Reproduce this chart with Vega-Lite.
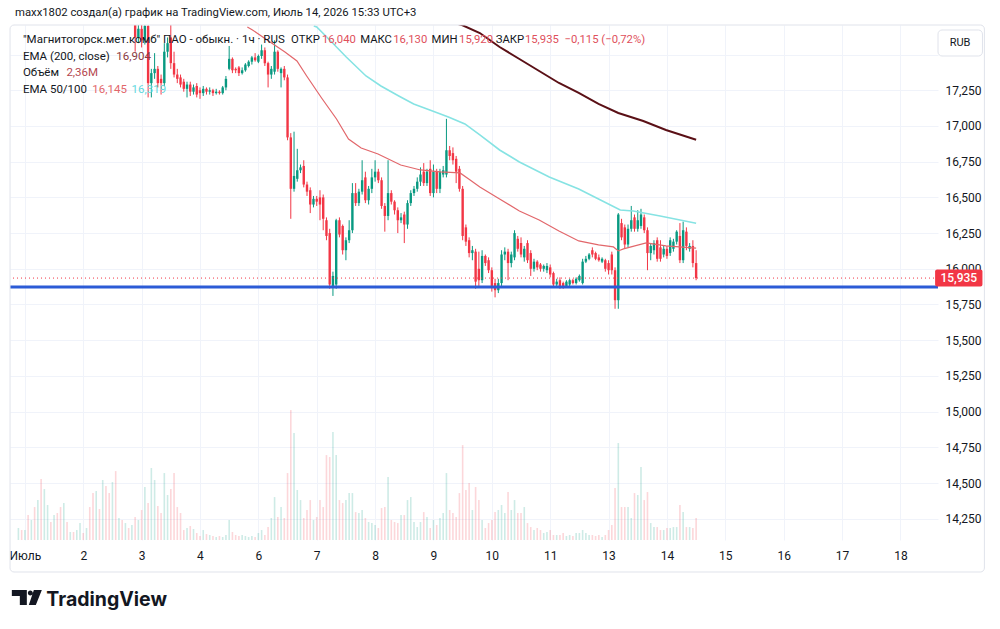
{
  "$schema": "https://vega.github.io/schema/vega-lite/v6.json",
  "width": 928,
  "height": 515,
  "autosize": "none",
  "padding": {"left": 10, "top": 25, "right": 62, "bottom": 89},
  "background": "#ffffff",
  "config": {"view": {"stroke": null}, "text": {"font": "Roboto"}, "axis": {"labelFont": "Roboto"}},
  "datasets": {
    "candles": [
      {"i":34,"o":17.72,"h":17.76,"l":17.52,"c":17.62},{"i":35,"o":17.62,"h":17.72,"l":17.58,"c":17.68},{"i":36,"o":17.68,"h":17.73,"l":17.55,"c":17.60},{"i":37,"o":17.60,"h":17.76,"l":17.57,"c":17.70},{"i":38,"o":17.70,"h":17.74,"l":17.20,"c":17.30},{"i":39,"o":17.30,"h":17.40,"l":17.20,"c":17.37},{"i":40,"o":17.37,"h":17.51,"l":17.33,"c":17.40},{"i":41,"o":17.40,"h":17.42,"l":17.27,"c":17.30},{"i":42,"o":17.33,"h":17.36,"l":17.22,"c":17.30},{"i":43,"o":17.30,"h":17.58,"l":17.28,"c":17.52},{"i":44,"o":17.52,"h":17.62,"l":17.48,"c":17.58},{"i":45,"o":17.62,"h":17.71,"l":17.40,"c":17.44},{"i":46,"o":17.44,"h":17.52,"l":17.34,"c":17.36},{"i":47,"o":17.36,"h":17.40,"l":17.30,"c":17.33},{"i":48,"o":17.34,"h":17.36,"l":17.27,"c":17.29},{"i":49,"o":17.31,"h":17.33,"l":17.24,"c":17.26},{"i":50,"o":17.26,"h":17.31,"l":17.20,"c":17.29},{"i":51,"o":17.29,"h":17.31,"l":17.21,"c":17.24},{"i":52,"o":17.24,"h":17.29,"l":17.22,"c":17.27},{"i":53,"o":17.28,"h":17.30,"l":17.20,"c":17.22},
      {"i":54,"o":17.25,"h":17.27,"l":17.19,"c":17.23},{"i":55,"o":17.23,"h":17.28,"l":17.21,"c":17.26},{"i":56,"o":17.26,"h":17.27,"l":17.22,"c":17.24},{"i":57,"o":17.24,"h":17.27,"l":17.22,"c":17.25},{"i":58,"o":17.25,"h":17.26,"l":17.21,"c":17.23},{"i":59,"o":17.23,"h":17.26,"l":17.22,"c":17.24},{"i":60,"o":17.24,"h":17.25,"l":17.22,"c":17.23},{"i":61,"o":17.23,"h":17.28,"l":17.22,"c":17.27},{"i":62,"o":17.27,"h":17.35,"l":17.25,"c":17.33},{"i":63,"o":17.40,"h":17.56,"l":17.39,"c":17.47},{"i":64,"o":17.47,"h":17.48,"l":17.37,"c":17.39},{"i":65,"o":17.40,"h":17.41,"l":17.37,"c":17.39},{"i":66,"o":17.41,"h":17.42,"l":17.35,"c":17.37},{"i":67,"o":17.37,"h":17.41,"l":17.36,"c":17.39},{"i":68,"o":17.39,"h":17.44,"l":17.38,"c":17.43},{"i":69,"o":17.42,"h":17.46,"l":17.41,"c":17.45},{"i":70,"o":17.45,"h":17.49,"l":17.43,"c":17.48},{"i":71,"o":17.48,"h":17.51,"l":17.45,"c":17.46},
      {"i":72,"o":17.45,"h":17.50,"l":17.44,"c":17.49},{"i":73,"o":17.49,"h":17.57,"l":17.47,"c":17.53},{"i":74,"o":17.53,"h":17.55,"l":17.42,"c":17.44},{"i":75,"o":17.44,"h":17.45,"l":17.27,"c":17.36},{"i":76,"o":17.36,"h":17.42,"l":17.33,"c":17.40},{"i":77,"o":17.38,"h":17.60,"l":17.36,"c":17.52},{"i":78,"o":17.52,"h":17.53,"l":17.38,"c":17.40},{"i":79,"o":17.37,"h":17.41,"l":17.27,"c":17.40},{"i":80,"o":17.40,"h":17.42,"l":17.32,"c":17.34},{"i":81,"o":17.34,"h":17.36,"l":16.90,"c":16.92},{"i":82,"o":16.92,"h":16.95,"l":16.35,"c":16.56},{"i":83,"o":16.56,"h":16.96,"l":16.54,"c":16.65},{"i":84,"o":16.63,"h":16.84,"l":16.61,"c":16.69},{"i":85,"o":16.69,"h":16.73,"l":16.67,"c":16.71},{"i":86,"o":16.72,"h":16.76,"l":16.57,"c":16.59},{"i":87,"o":16.59,"h":16.61,"l":16.51,"c":16.54},{"i":88,"o":16.55,"h":16.57,"l":16.39,"c":16.45},{"i":89,"o":16.45,"h":16.51,"l":16.43,"c":16.49},
      {"i":90,"o":16.49,"h":16.51,"l":16.44,"c":16.47},{"i":91,"o":16.50,"h":16.55,"l":16.34,"c":16.45},{"i":92,"o":16.50,"h":16.52,"l":16.27,"c":16.35},{"i":93,"o":16.34,"h":16.36,"l":16.20,"c":16.23},{"i":94,"o":16.25,"h":16.28,"l":15.86,"c":15.89},{"i":95,"o":15.88,"h":15.98,"l":15.81,"c":15.95},{"i":96,"o":15.89,"h":16.35,"l":15.86,"c":16.34},{"i":97,"o":16.34,"h":16.36,"l":16.22,"c":16.24},{"i":98,"o":16.30,"h":16.31,"l":16.10,"c":16.13},{"i":99,"o":16.13,"h":16.22,"l":16.06,"c":16.20},{"i":100,"o":16.20,"h":16.34,"l":16.18,"c":16.27},{"i":101,"o":16.27,"h":16.60,"l":16.25,"c":16.53},{"i":102,"o":16.53,"h":16.60,"l":16.44,"c":16.46},{"i":103,"o":16.46,"h":16.56,"l":16.44,"c":16.54},{"i":104,"o":16.54,"h":16.76,"l":16.52,"c":16.62},{"i":105,"o":16.64,"h":16.68,"l":16.46,"c":16.48},{"i":106,"o":16.48,"h":16.58,"l":16.45,"c":16.56},{"i":107,"o":16.56,"h":16.70,"l":16.53,"c":16.64},
      {"i":108,"o":16.64,"h":16.76,"l":16.61,"c":16.68},{"i":109,"o":16.68,"h":16.70,"l":16.60,"c":16.62},{"i":110,"o":16.62,"h":16.64,"l":16.42,"c":16.44},{"i":111,"o":16.44,"h":16.46,"l":16.26,"c":16.37},{"i":112,"o":16.37,"h":16.76,"l":16.34,"c":16.53},{"i":113,"o":16.53,"h":16.55,"l":16.45,"c":16.47},{"i":114,"o":16.47,"h":16.48,"l":16.38,"c":16.41},{"i":115,"o":16.41,"h":16.43,"l":16.25,"c":16.34},{"i":116,"o":16.34,"h":16.39,"l":16.32,"c":16.36},{"i":117,"o":16.38,"h":16.40,"l":16.18,"c":16.31},{"i":118,"o":16.31,"h":16.48,"l":16.28,"c":16.46},{"i":119,"o":16.46,"h":16.55,"l":16.44,"c":16.53},{"i":120,"o":16.53,"h":16.58,"l":16.51,"c":16.56},{"i":121,"o":16.56,"h":16.64,"l":16.54,"c":16.61},{"i":122,"o":16.61,"h":16.71,"l":16.58,"c":16.66},{"i":123,"o":16.68,"h":16.74,"l":16.58,"c":16.60},{"i":124,"o":16.60,"h":16.70,"l":16.58,"c":16.68},{"i":125,"o":16.70,"h":16.76,"l":16.51,"c":16.53},
      {"i":126,"o":16.53,"h":16.73,"l":16.50,"c":16.68},{"i":127,"o":16.68,"h":16.70,"l":16.53,"c":16.56},{"i":128,"o":16.56,"h":16.70,"l":16.53,"c":16.68},{"i":129,"o":16.66,"h":16.72,"l":16.64,"c":16.69},{"i":130,"o":16.66,"h":17.05,"l":16.64,"c":16.83},{"i":131,"o":16.83,"h":16.86,"l":16.76,"c":16.79},{"i":132,"o":16.81,"h":16.85,"l":16.73,"c":16.76},{"i":133,"o":16.77,"h":16.79,"l":16.60,"c":16.68},{"i":134,"o":16.70,"h":16.72,"l":16.54,"c":16.56},{"i":135,"o":16.56,"h":16.58,"l":16.20,"c":16.23},{"i":136,"o":16.29,"h":16.31,"l":16.16,"c":16.19},{"i":137,"o":16.20,"h":16.22,"l":16.08,"c":16.11},{"i":138,"o":16.11,"h":16.16,"l":16.06,"c":16.13},{"i":139,"o":16.12,"h":16.14,"l":15.86,"c":15.91},{"i":140,"o":16.00,"h":16.12,"l":15.88,"c":15.92},{"i":141,"o":15.92,"h":16.13,"l":15.90,"c":16.09},{"i":142,"o":16.09,"h":16.10,"l":16.02,"c":16.04},{"i":143,"o":16.06,"h":16.08,"l":15.97,"c":15.99},
      {"i":144,"o":15.99,"h":16.01,"l":15.84,"c":15.88},{"i":145,"o":15.90,"h":15.93,"l":15.80,"c":15.85},{"i":146,"o":15.85,"h":15.93,"l":15.83,"c":15.90},{"i":147,"o":15.90,"h":16.13,"l":15.88,"c":16.10},{"i":148,"o":16.10,"h":16.15,"l":16.06,"c":16.12},{"i":149,"o":16.12,"h":16.14,"l":15.92,"c":16.04},{"i":150,"o":16.04,"h":16.12,"l":16.01,"c":16.10},{"i":151,"o":16.08,"h":16.27,"l":16.06,"c":16.25},{"i":152,"o":16.21,"h":16.23,"l":16.12,"c":16.14},{"i":153,"o":16.18,"h":16.22,"l":16.08,"c":16.10},{"i":154,"o":16.08,"h":16.16,"l":16.05,"c":16.14},{"i":155,"o":16.18,"h":16.20,"l":16.04,"c":16.06},{"i":156,"o":16.11,"h":16.13,"l":15.95,"c":16.00},{"i":157,"o":16.00,"h":16.07,"l":15.98,"c":16.05},{"i":158,"o":16.05,"h":16.06,"l":15.99,"c":16.01},{"i":159,"o":16.03,"h":16.04,"l":15.98,"c":16.00},{"i":160,"o":16.00,"h":16.03,"l":15.98,"c":16.02},{"i":161,"o":15.99,"h":16.04,"l":15.97,"c":16.02},
      {"i":162,"o":16.01,"h":16.03,"l":15.94,"c":15.96},{"i":163,"o":15.97,"h":15.98,"l":15.87,"c":15.89},{"i":164,"o":15.89,"h":15.93,"l":15.87,"c":15.91},{"i":165,"o":15.92,"h":15.94,"l":15.86,"c":15.88},{"i":166,"o":15.90,"h":15.91,"l":15.86,"c":15.88},{"i":167,"o":15.88,"h":15.92,"l":15.87,"c":15.91},{"i":168,"o":15.89,"h":15.93,"l":15.87,"c":15.92},{"i":169,"o":15.92,"h":15.93,"l":15.89,"c":15.90},{"i":170,"o":15.90,"h":15.94,"l":15.89,"c":15.93},{"i":171,"o":15.92,"h":15.96,"l":15.91,"c":15.95},{"i":172,"o":15.90,"h":16.07,"l":15.89,"c":16.05},{"i":173,"o":16.05,"h":16.09,"l":16.04,"c":16.07},{"i":174,"o":16.07,"h":16.11,"l":16.06,"c":16.10},{"i":175,"o":16.13,"h":16.15,"l":16.08,"c":16.10},{"i":176,"o":16.11,"h":16.12,"l":16.06,"c":16.07},{"i":177,"o":16.08,"h":16.10,"l":16.05,"c":16.06},{"i":178,"o":16.05,"h":16.08,"l":16.04,"c":16.07},{"i":179,"o":16.06,"h":16.07,"l":15.98,"c":16.00},
      {"i":180,"o":16.04,"h":16.06,"l":15.96,"c":15.99},{"i":181,"o":16.10,"h":16.12,"l":15.96,"c":15.99},{"i":182,"o":15.99,"h":16.01,"l":15.72,"c":15.78},{"i":183,"o":15.78,"h":16.39,"l":15.72,"c":16.38},{"i":184,"o":16.32,"h":16.35,"l":16.20,"c":16.22},{"i":185,"o":16.29,"h":16.31,"l":16.14,"c":16.17},{"i":186,"o":16.17,"h":16.31,"l":16.15,"c":16.28},{"i":187,"o":16.28,"h":16.44,"l":16.26,"c":16.34},{"i":188,"o":16.36,"h":16.38,"l":16.26,"c":16.28},{"i":189,"o":16.28,"h":16.41,"l":16.26,"c":16.34},{"i":190,"o":16.30,"h":16.42,"l":16.28,"c":16.38},{"i":191,"o":16.36,"h":16.38,"l":16.25,"c":16.27},{"i":192,"o":16.27,"h":16.29,"l":15.99,"c":16.11},{"i":193,"o":16.11,"h":16.18,"l":16.06,"c":16.16},{"i":194,"o":16.13,"h":16.20,"l":16.10,"c":16.18},{"i":195,"o":16.20,"h":16.22,"l":16.05,"c":16.07},{"i":196,"o":16.15,"h":16.20,"l":16.05,"c":16.07},{"i":197,"o":16.10,"h":16.16,"l":16.08,"c":16.14},
      {"i":198,"o":16.14,"h":16.16,"l":16.07,"c":16.09},{"i":199,"o":16.11,"h":16.22,"l":16.09,"c":16.20},{"i":200,"o":16.14,"h":16.21,"l":16.12,"c":16.19},{"i":201,"o":16.19,"h":16.27,"l":16.17,"c":16.26},{"i":202,"o":16.23,"h":16.32,"l":16.04,"c":16.06},{"i":203,"o":16.06,"h":16.33,"l":16.04,"c":16.27},{"i":204,"o":16.26,"h":16.29,"l":16.13,"c":16.16},{"i":205,"o":16.14,"h":16.18,"l":16.12,"c":16.16},{"i":206,"o":16.16,"h":16.20,"l":16.01,"c":16.04},{"i":207,"o":16.04,"h":16.13,"l":15.92,"c":15.935}
    ],
    "volume": [
      {"i":-2,"v":1.29,"up":1},{"i":-1,"v":1.07,"up":0},{"i":0,"v":1.07,"up":1},{"i":1,"v":2.68,"up":0},{"i":2,"v":2.15,"up":1},{"i":3,"v":3.54,"up":0},{"i":4,"v":4.29,"up":1},{"i":5,"v":6.55,"up":0},{"i":6,"v":5.47,"up":1},{"i":7,"v":3.76,"up":1},{"i":8,"v":1.93,"up":0},{"i":9,"v":2.68,"up":1},{"i":10,"v":2.90,"up":0},{"i":11,"v":3.54,"up":0},{"i":12,"v":3.97,"up":1},{"i":13,"v":1.93,"up":0},{"i":14,"v":0.86,"up":1},{"i":15,"v":0.86,"up":0},{"i":16,"v":1.07,"up":1},{"i":17,"v":1.82,"up":1},{"i":18,"v":0.75,"up":0},{"i":19,"v":1.29,"up":1},{"i":20,"v":3.54,"up":0},{"i":21,"v":5.04,"up":0},{"i":22,"v":5.26,"up":1},{"i":23,"v":3.33,"up":0},{"i":24,"v":6.44,"up":1},{"i":25,"v":5.79,"up":0},{"i":26,"v":5.04,"up":0},{"i":27,"v":6.22,"up":1},{"i":28,"v":7.40,"up":0},{"i":29,"v":2.36,"up":1},{"i":30,"v":2.15,"up":0},{"i":31,"v":1.82,"up":1},{"i":32,"v":1.29,"up":0},{"i":33,"v":1.61,"up":1},
      {"i":34,"v":2.47,"up":0},{"i":35,"v":2.15,"up":1},{"i":36,"v":3.22,"up":0},{"i":37,"v":5.69,"up":1},{"i":38,"v":3.97,"up":0},{"i":39,"v":7.73,"up":1},{"i":40,"v":6.44,"up":1},{"i":41,"v":3.65,"up":0},{"i":42,"v":2.90,"up":0},{"i":43,"v":7.19,"up":1},{"i":44,"v":4.83,"up":1},{"i":45,"v":5.47,"up":0},{"i":46,"v":7.19,"up":0},{"i":47,"v":3.54,"up":0},{"i":48,"v":2.90,"up":0},{"i":49,"v":1.07,"up":0},{"i":50,"v":1.29,"up":1},{"i":51,"v":1.50,"up":0},{"i":52,"v":1.18,"up":1},{"i":53,"v":0.75,"up":0},
      {"i":54,"v":0.43,"up":0},{"i":55,"v":1.07,"up":1},{"i":56,"v":0.64,"up":0},{"i":57,"v":0.54,"up":1},{"i":58,"v":0.43,"up":0},{"i":59,"v":0.32,"up":1},{"i":60,"v":0.43,"up":0},{"i":61,"v":0.32,"up":1},{"i":62,"v":0.54,"up":1},{"i":63,"v":2.15,"up":1},{"i":64,"v":0.86,"up":0},{"i":65,"v":0.54,"up":0},{"i":66,"v":0.43,"up":0},{"i":67,"v":0.54,"up":1},{"i":68,"v":0.43,"up":1},{"i":69,"v":0.32,"up":1},{"i":70,"v":0.43,"up":1},{"i":71,"v":0.32,"up":0},
      {"i":72,"v":0.75,"up":1},{"i":73,"v":1.07,"up":1},{"i":74,"v":0.54,"up":0},{"i":75,"v":1.39,"up":0},{"i":76,"v":2.36,"up":1},{"i":77,"v":4.61,"up":1},{"i":78,"v":2.47,"up":0},{"i":79,"v":3.54,"up":1},{"i":80,"v":2.36,"up":0},{"i":81,"v":7.19,"up":0},{"i":82,"v":13.95,"up":0},{"i":83,"v":11.48,"up":1},{"i":84,"v":5.37,"up":1},{"i":85,"v":4.29,"up":1},{"i":86,"v":2.36,"up":0},{"i":87,"v":3.22,"up":0},{"i":88,"v":4.29,"up":0},{"i":89,"v":2.15,"up":1},
      {"i":90,"v":2.47,"up":0},{"i":91,"v":4.29,"up":0},{"i":92,"v":3.54,"up":0},{"i":93,"v":9.12,"up":0},{"i":94,"v":8.91,"up":0},{"i":95,"v":11.59,"up":1},{"i":96,"v":9.12,"up":1},{"i":97,"v":4.29,"up":0},{"i":98,"v":3.97,"up":0},{"i":99,"v":4.29,"up":1},{"i":100,"v":5.04,"up":1},{"i":101,"v":5.04,"up":1},{"i":102,"v":3.00,"up":0},{"i":103,"v":2.90,"up":1},{"i":104,"v":3.22,"up":1},{"i":105,"v":2.36,"up":0},{"i":106,"v":1.93,"up":1},{"i":107,"v":1.82,"up":1},
      {"i":108,"v":1.61,"up":1},{"i":109,"v":1.29,"up":0},{"i":110,"v":3.43,"up":0},{"i":111,"v":3.54,"up":0},{"i":112,"v":6.76,"up":1},{"i":113,"v":2.15,"up":0},{"i":114,"v":1.93,"up":0},{"i":115,"v":1.82,"up":0},{"i":116,"v":2.68,"up":1},{"i":117,"v":2.68,"up":0},{"i":118,"v":4.29,"up":1},{"i":119,"v":4.61,"up":1},{"i":120,"v":1.93,"up":1},{"i":121,"v":1.39,"up":1},{"i":122,"v":1.93,"up":1},{"i":123,"v":3.00,"up":0},{"i":124,"v":2.47,"up":1},{"i":125,"v":1.29,"up":0},
      {"i":126,"v":2.15,"up":1},{"i":127,"v":1.61,"up":0},{"i":128,"v":2.36,"up":1},{"i":129,"v":2.90,"up":1},{"i":130,"v":7.19,"up":1},{"i":131,"v":3.22,"up":0},{"i":132,"v":2.90,"up":0},{"i":133,"v":2.47,"up":0},{"i":134,"v":5.04,"up":0},{"i":135,"v":10.19,"up":0},{"i":136,"v":5.37,"up":0},{"i":137,"v":6.12,"up":0},{"i":138,"v":3.22,"up":1},{"i":139,"v":5.69,"up":0},{"i":140,"v":4.29,"up":0},{"i":141,"v":2.15,"up":1},{"i":142,"v":1.29,"up":0},{"i":143,"v":1.82,"up":0},
      {"i":144,"v":2.15,"up":0},{"i":145,"v":3.00,"up":0},{"i":146,"v":3.22,"up":1},{"i":147,"v":3.76,"up":1},{"i":148,"v":2.90,"up":1},{"i":149,"v":5.15,"up":0},{"i":150,"v":3.22,"up":1},{"i":151,"v":4.29,"up":1},{"i":152,"v":2.90,"up":0},{"i":153,"v":2.90,"up":0},{"i":154,"v":3.54,"up":1},{"i":155,"v":1.82,"up":0},{"i":156,"v":1.39,"up":0},{"i":157,"v":1.07,"up":1},{"i":158,"v":1.29,"up":0},{"i":159,"v":1.07,"up":0},{"i":160,"v":0.75,"up":1},{"i":161,"v":0.86,"up":1},
      {"i":162,"v":1.07,"up":0},{"i":163,"v":0.54,"up":0},{"i":164,"v":0.54,"up":1},{"i":165,"v":0.54,"up":0},{"i":166,"v":0.75,"up":0},{"i":167,"v":0.43,"up":1},{"i":168,"v":0.54,"up":1},{"i":169,"v":0.43,"up":0},{"i":170,"v":0.75,"up":1},{"i":171,"v":0.75,"up":1},{"i":172,"v":1.07,"up":1},{"i":173,"v":0.75,"up":1},{"i":174,"v":0.54,"up":1},{"i":175,"v":0.54,"up":0},{"i":176,"v":0.43,"up":0},{"i":177,"v":0.54,"up":0},{"i":178,"v":0.32,"up":1},{"i":179,"v":0.54,"up":0},
      {"i":180,"v":1.07,"up":0},{"i":181,"v":1.61,"up":0},{"i":182,"v":5.58,"up":0},{"i":183,"v":10.41,"up":1},{"i":184,"v":3.54,"up":0},{"i":185,"v":3.54,"up":0},{"i":186,"v":3.54,"up":1},{"i":187,"v":2.36,"up":1},{"i":188,"v":5.04,"up":0},{"i":189,"v":4.83,"up":1},{"i":190,"v":7.83,"up":1},{"i":191,"v":4.29,"up":0},{"i":192,"v":5.15,"up":0},{"i":193,"v":1.82,"up":1},{"i":194,"v":1.39,"up":1},{"i":195,"v":1.39,"up":0},{"i":196,"v":1.07,"up":0},{"i":197,"v":1.07,"up":1},
      {"i":198,"v":1.29,"up":0},{"i":199,"v":1.29,"up":1},{"i":200,"v":1.39,"up":1},{"i":201,"v":1.39,"up":1},{"i":202,"v":3.76,"up":0},{"i":203,"v":3.00,"up":1},{"i":204,"v":1.39,"up":0},{"i":205,"v":1.39,"up":1},{"i":206,"v":1.29,"up":0},{"i":207,"v":2.36,"up":0}
    ],
    "ema50": [
      {"i":68.6,"p":17.693},{"i":70.2,"p":17.672},{"i":74.7,"p":17.602},{"i":80.2,"p":17.518},{"i":83.9,"p":17.455},{"i":86.9,"p":17.350},{"i":91.5,"p":17.196},{"i":96.1,"p":17.049},{"i":99.8,"p":16.909},{"i":103.7,"p":16.846},{"i":108.9,"p":16.804},{"i":115.9,"p":16.727},{"i":122.0,"p":16.692},{"i":128.1,"p":16.678},{"i":134.2,"p":16.671},{"i":137.3,"p":16.622},{"i":140.3,"p":16.573},{"i":146.4,"p":16.489},{"i":152.5,"p":16.405},{"i":158.6,"p":16.342},{"i":164.7,"p":16.265},{"i":170.8,"p":16.195},{"i":176.9,"p":16.167},{"i":181.5,"p":16.153},{"i":183.0,"p":16.125},{"i":184.6,"p":16.139},{"i":191.6,"p":16.181},{"i":197.7,"p":16.160},{"i":207,"p":16.145}
    ],
    "ema100": [
      {"i":89.1,"p":17.700},{"i":90.0,"p":17.693},{"i":94.6,"p":17.588},{"i":99.1,"p":17.483},{"i":105.2,"p":17.350},{"i":109.8,"p":17.280},{"i":115.3,"p":17.210},{"i":119.9,"p":17.154},{"i":125.7,"p":17.105},{"i":130.6,"p":17.063},{"i":135.7,"p":17.014},{"i":140.3,"p":16.937},{"i":146.4,"p":16.832},{"i":152.5,"p":16.748},{"i":161.7,"p":16.643},{"i":170.8,"p":16.559},{"i":176.9,"p":16.489},{"i":183.6,"p":16.412},{"i":187.6,"p":16.405},{"i":195.9,"p":16.370},{"i":207,"p":16.319}
    ],
    "ema200": [
      {"i":133.6,"p":17.714},{"i":134.8,"p":17.707},{"i":140.3,"p":17.651},{"i":146.4,"p":17.553},{"i":152.5,"p":17.469},{"i":158.6,"p":17.385},{"i":164.7,"p":17.301},{"i":170.8,"p":17.231},{"i":176.9,"p":17.154},{"i":183.0,"p":17.091},{"i":190.7,"p":17.035},{"i":197.7,"p":16.972},{"i":207,"p":16.904}
    ]
  },
  "layer": [
    {
      "data": {"name": "volume"},
      "mark": {"type": "bar", "size": 1.6, "clip": true},
      "encoding": {
        "x": {"field": "i", "type": "quantitative", "scale": {"domain": [-3.05, 280.05], "nice": false, "zero": false}},
        "y": {"field": "v", "type": "quantitative", "scale": {"domain": [0, 55.3], "nice": false}, "axis": null},
        "color": {"condition": {"test": "datum.up == 1", "value": "rgba(8,153,129,0.2)"}, "value": "rgba(242,54,69,0.2)"}
      }
    },
    {
      "layer": [
        {
          "data": {"name": "candles"},
          "mark": {"type": "rule", "strokeWidth": 1, "clip": true},
          "encoding": {
            "x": {"field": "i", "type": "quantitative", "scale": {"domain": [-3.05, 280.05], "nice": false, "zero": false},
              "axis": {"orient": "bottom", "values": [0,18,36,54,72,90,108,126,144,162,180,198,216,234,252,270], "tickCount": 30,
                "labelExpr": "['Июль','2','3','4','6','7','8','9','10','11','13','14','15','16','17','18'][round(datum.value/18)]",
                "grid": true, "gridColor": "#f0f3fa", "ticks": false, "domain": false, "labelPadding": 10, "labelFontSize": 12, "labelColor": "#131722", "title": null, "labelOverlap": false, "labelFlush": false}},
            "y": {"field": "l", "type": "quantitative", "scale": {"domain": [14.101, 17.707], "nice": false, "zero": false},
              "axis": {"orient": "right", "values": [14.25,14.5,14.75,15,15.25,15.5,15.75,16,16.25,16.5,16.75,17,17.25,17.5], "tickCount": 30,
                "labelExpr": "datum.value > 17.4 ? '' : replace(format(datum.value, '.3f'), '.', ',')",
                "grid": true, "gridColor": "#f0f3fa", "ticks": false, "domain": false, "labelPadding": 7, "labelFontSize": 12, "labelColor": "#131722", "title": null, "labelOverlap": false, "labelFlush": false}},
            "y2": {"field": "h"},
            "color": {"condition": {"test": "datum.c >= datum.o", "value": "#089981"}, "value": "#f23645"}
          }
        },
        {
          "data": {"name": "candles"},
          "mark": {"type": "bar", "size": 2.4, "clip": true},
          "encoding": {
            "x": {"field": "i", "type": "quantitative", "scale": {"domain": [-3.05, 280.05], "nice": false, "zero": false}},
            "y": {"field": "o", "type": "quantitative", "scale": {"domain": [14.101, 17.707], "nice": false, "zero": false}},
            "y2": {"field": "c"},
            "color": {"condition": {"test": "datum.c >= datum.o", "value": "#089981"}, "value": "#f23645"}
          }
        },
        {
          "data": {"name": "ema50"},
          "mark": {"type": "line", "color": "#e2676b", "strokeWidth": 1.2, "clip": true},
          "encoding": {
            "x": {"field": "i", "type": "quantitative", "scale": {"domain": [-3.05, 280.05], "nice": false, "zero": false}},
            "y": {"field": "p", "type": "quantitative", "scale": {"domain": [14.101, 17.707], "nice": false, "zero": false}}
          }
        },
        {
          "data": {"name": "ema100"},
          "mark": {"type": "line", "color": "#86e3e3", "strokeWidth": 1.6, "clip": true},
          "encoding": {
            "x": {"field": "i", "type": "quantitative", "scale": {"domain": [-3.05, 280.05], "nice": false, "zero": false}},
            "y": {"field": "p", "type": "quantitative", "scale": {"domain": [14.101, 17.707], "nice": false, "zero": false}}
          }
        },
        {
          "data": {"name": "ema200"},
          "mark": {"type": "line", "color": "#5a1016", "strokeWidth": 2, "clip": true},
          "encoding": {
            "x": {"field": "i", "type": "quantitative", "scale": {"domain": [-3.05, 280.05], "nice": false, "zero": false}},
            "y": {"field": "p", "type": "quantitative", "scale": {"domain": [14.101, 17.707], "nice": false, "zero": false}}
          }
        },
        {
          "data": {"values": [{}]},
          "mark": {"type": "rule", "color": "#f23645", "strokeWidth": 1, "strokeDash": [1, 3]},
          "encoding": {"y": {"datum": 15.935, "type": "quantitative", "scale": {"domain": [14.101, 17.707], "nice": false, "zero": false}}}
        },
        {
          "data": {"values": [{}]},
          "mark": {"type": "rule", "color": "#2b5bd6", "strokeWidth": 3},
          "encoding": {"y": {"datum": 15.873, "type": "quantitative", "scale": {"domain": [14.101, 17.707], "nice": false, "zero": false}}}
        },
        {
          "data": {"values": [{}]},
          "mark": {"type": "rect", "filled": false, "stroke": "#e0e3eb", "strokeWidth": 1, "cornerRadius": 4},
          "encoding": {
            "x": {"datum": -4.58, "type": "quantitative", "scale": {"domain": [-3.05, 280.05], "nice": false, "zero": false}},
            "x2": {"datum": 295.9},
            "y": {"datum": 17.707, "type": "quantitative", "scale": {"domain": [14.101, 17.707], "nice": false, "zero": false}},
            "y2": {"datum": 13.877}
          }
        },
        {
          "data": {"values": [{}]},
          "mark": {"type": "rect", "fill": "#ffffff", "stroke": "#e0e3eb", "strokeWidth": 1, "cornerRadius": 4},
          "encoding": {
            "x": {"datum": 281.6, "type": "quantitative", "scale": {"domain": [-3.05, 280.05], "nice": false, "zero": false}},
            "x2": {"datum": 295.3},
            "y": {"datum": 17.672, "type": "quantitative", "scale": {"domain": [14.101, 17.707], "nice": false, "zero": false}},
            "y2": {"datum": 17.490}
          }
        },
        {
          "data": {"values": [{}]},
          "mark": {"type": "text", "text": "RUB", "align": "center", "baseline": "middle", "fontSize": 11, "color": "#131722"},
          "encoding": {
            "x": {"datum": 288.4, "type": "quantitative", "scale": {"domain": [-3.05, 280.05], "nice": false, "zero": false}},
            "y": {"datum": 17.581, "type": "quantitative", "scale": {"domain": [14.101, 17.707], "nice": false, "zero": false}}
          }
        },
        {
          "data": {"values": [{}]},
          "mark": {"type": "rect", "fill": "#f23645", "cornerRadius": 2},
          "encoding": {
            "x": {"datum": 280.7, "type": "quantitative", "scale": {"domain": [-3.05, 280.05], "nice": false, "zero": false}},
            "x2": {"datum": 295.3},
            "y": {"datum": 15.9945, "type": "quantitative", "scale": {"domain": [14.101, 17.707], "nice": false, "zero": false}},
            "y2": {"datum": 15.8755}
          }
        },
        {
          "data": {"values": [{}]},
          "mark": {"type": "text", "text": "15,935", "align": "center", "baseline": "middle", "fontSize": 12, "fontWeight": 500, "color": "#ffffff"},
          "encoding": {
            "x": {"datum": 288.0, "type": "quantitative", "scale": {"domain": [-3.05, 280.05], "nice": false, "zero": false}},
            "y": {"datum": 15.935, "type": "quantitative", "scale": {"domain": [14.101, 17.707], "nice": false, "zero": false}}
          }
        },
        {
          "data": {"values": [{}]},
          "mark": {"type": "text", "text": "maxx1802 создал(а) график на TradingView.com, Июль 14, 2026 15:33 UTC+3", "align": "left", "baseline": "middle", "fontSize": 11.3, "color": "#131722"},
          "encoding": {
            "x": {"datum": -3.05, "type": "quantitative", "scale": {"domain": [-3.05, 280.05], "nice": false, "zero": false}},
            "y": {"datum": 17.791, "type": "quantitative", "scale": {"domain": [14.101, 17.707], "nice": false, "zero": false}}
          }
        },
        {
          "data": {"values": [{}]},
          "mark": {"type": "text", "text": "\"Магнитогорск.мет.комб\" ПАО - обыкн. · 1ч · RUS", "align": "left", "baseline": "middle", "fontSize": 11.5, "color": "#131722"},
          "encoding": {
            "x": {"datum": -0.61, "type": "quantitative", "scale": {"domain": [-3.05, 280.05], "nice": false, "zero": false}},
            "y": {"datum": 17.602, "type": "quantitative", "scale": {"domain": [14.101, 17.707], "nice": false, "zero": false}}
          }
        },
        {
          "data": {"values": [{}]},
          "mark": {"type": "text", "text": "ОТКР", "align": "left", "baseline": "middle", "fontSize": 11.3, "color": "#131722"},
          "encoding": {
            "x": {"datum": 82.1, "type": "quantitative", "scale": {"domain": [-3.05, 280.05], "nice": false, "zero": false}},
            "y": {"datum": 17.602, "type": "quantitative", "scale": {"domain": [14.101, 17.707], "nice": false, "zero": false}}
          }
        },
        {
          "data": {"values": [{}]},
          "mark": {"type": "text", "text": "16,040", "align": "left", "baseline": "middle", "fontSize": 11.3, "color": "#e0505c"},
          "encoding": {
            "x": {"datum": 91.6, "type": "quantitative", "scale": {"domain": [-3.05, 280.05], "nice": false, "zero": false}},
            "y": {"datum": 17.602, "type": "quantitative", "scale": {"domain": [14.101, 17.707], "nice": false, "zero": false}}
          }
        },
        {
          "data": {"values": [{}]},
          "mark": {"type": "text", "text": "МАКС", "align": "left", "baseline": "middle", "fontSize": 11.3, "color": "#131722"},
          "encoding": {
            "x": {"datum": 103.4, "type": "quantitative", "scale": {"domain": [-3.05, 280.05], "nice": false, "zero": false}},
            "y": {"datum": 17.602, "type": "quantitative", "scale": {"domain": [14.101, 17.707], "nice": false, "zero": false}}
          }
        },
        {
          "data": {"values": [{}]},
          "mark": {"type": "text", "text": "16,130", "align": "left", "baseline": "middle", "fontSize": 11.3, "color": "#e0505c"},
          "encoding": {
            "x": {"datum": 113.6, "type": "quantitative", "scale": {"domain": [-3.05, 280.05], "nice": false, "zero": false}},
            "y": {"datum": 17.602, "type": "quantitative", "scale": {"domain": [14.101, 17.707], "nice": false, "zero": false}}
          }
        },
        {
          "data": {"values": [{}]},
          "mark": {"type": "text", "text": "МИН", "align": "left", "baseline": "middle", "fontSize": 11.3, "color": "#131722"},
          "encoding": {
            "x": {"datum": 125.4, "type": "quantitative", "scale": {"domain": [-3.05, 280.05], "nice": false, "zero": false}},
            "y": {"datum": 17.602, "type": "quantitative", "scale": {"domain": [14.101, 17.707], "nice": false, "zero": false}}
          }
        },
        {
          "data": {"values": [{}]},
          "mark": {"type": "text", "text": "15,920", "align": "left", "baseline": "middle", "fontSize": 11.3, "color": "#e0505c"},
          "encoding": {
            "x": {"datum": 133.9, "type": "quantitative", "scale": {"domain": [-3.05, 280.05], "nice": false, "zero": false}},
            "y": {"datum": 17.602, "type": "quantitative", "scale": {"domain": [14.101, 17.707], "nice": false, "zero": false}}
          }
        },
        {
          "data": {"values": [{}]},
          "mark": {"type": "text", "text": "ЗАКР", "align": "left", "baseline": "middle", "fontSize": 11.3, "color": "#131722"},
          "encoding": {
            "x": {"datum": 145.2, "type": "quantitative", "scale": {"domain": [-3.05, 280.05], "nice": false, "zero": false}},
            "y": {"datum": 17.602, "type": "quantitative", "scale": {"domain": [14.101, 17.707], "nice": false, "zero": false}}
          }
        },
        {
          "data": {"values": [{}]},
          "mark": {"type": "text", "text": "15,935", "align": "left", "baseline": "middle", "fontSize": 11.3, "color": "#e0505c"},
          "encoding": {
            "x": {"datum": 154.2, "type": "quantitative", "scale": {"domain": [-3.05, 280.05], "nice": false, "zero": false}},
            "y": {"datum": 17.602, "type": "quantitative", "scale": {"domain": [14.101, 17.707], "nice": false, "zero": false}}
          }
        },
        {
          "data": {"values": [{}]},
          "mark": {"type": "text", "text": "−0,115 (−0,72%)", "align": "left", "baseline": "middle", "fontSize": 11.3, "color": "#e0505c"},
          "encoding": {
            "x": {"datum": 166.4, "type": "quantitative", "scale": {"domain": [-3.05, 280.05], "nice": false, "zero": false}},
            "y": {"datum": 17.602, "type": "quantitative", "scale": {"domain": [14.101, 17.707], "nice": false, "zero": false}}
          }
        },
        {
          "data": {"values": [{}]},
          "mark": {"type": "text", "text": "EMA (200, close)", "align": "left", "baseline": "middle", "fontSize": 11.5, "color": "#131722"},
          "encoding": {
            "x": {"datum": -0.61, "type": "quantitative", "scale": {"domain": [-3.05, 280.05], "nice": false, "zero": false}},
            "y": {"datum": 17.483, "type": "quantitative", "scale": {"domain": [14.101, 17.707], "nice": false, "zero": false}}
          }
        },
        {
          "data": {"values": [{}]},
          "mark": {"type": "text", "text": "16,904", "align": "left", "baseline": "middle", "fontSize": 11.5, "color": "#8a3a3e"},
          "encoding": {
            "x": {"datum": 28.2, "type": "quantitative", "scale": {"domain": [-3.05, 280.05], "nice": false, "zero": false}},
            "y": {"datum": 17.483, "type": "quantitative", "scale": {"domain": [14.101, 17.707], "nice": false, "zero": false}}
          }
        },
        {
          "data": {"values": [{}]},
          "mark": {"type": "text", "text": "Объём", "align": "left", "baseline": "middle", "fontSize": 11.5, "color": "#131722"},
          "encoding": {
            "x": {"datum": -0.61, "type": "quantitative", "scale": {"domain": [-3.05, 280.05], "nice": false, "zero": false}},
            "y": {"datum": 17.371, "type": "quantitative", "scale": {"domain": [14.101, 17.707], "nice": false, "zero": false}}
          }
        },
        {
          "data": {"values": [{}]},
          "mark": {"type": "text", "text": "2,36M", "align": "left", "baseline": "middle", "fontSize": 11.5, "color": "#b5484f"},
          "encoding": {
            "x": {"datum": 12.8, "type": "quantitative", "scale": {"domain": [-3.05, 280.05], "nice": false, "zero": false}},
            "y": {"datum": 17.371, "type": "quantitative", "scale": {"domain": [14.101, 17.707], "nice": false, "zero": false}}
          }
        },
        {
          "data": {"values": [{}]},
          "mark": {"type": "text", "text": "EMA 50/100", "align": "left", "baseline": "middle", "fontSize": 11.5, "color": "#131722"},
          "encoding": {
            "x": {"datum": -0.61, "type": "quantitative", "scale": {"domain": [-3.05, 280.05], "nice": false, "zero": false}},
            "y": {"datum": 17.252, "type": "quantitative", "scale": {"domain": [14.101, 17.707], "nice": false, "zero": false}}
          }
        },
        {
          "data": {"values": [{}]},
          "mark": {"type": "text", "text": "16,145", "align": "left", "baseline": "middle", "fontSize": 11.5, "color": "#e2676b"},
          "encoding": {
            "x": {"datum": 20.8, "type": "quantitative", "scale": {"domain": [-3.05, 280.05], "nice": false, "zero": false}},
            "y": {"datum": 17.252, "type": "quantitative", "scale": {"domain": [14.101, 17.707], "nice": false, "zero": false}}
          }
        },
        {
          "data": {"values": [{}]},
          "mark": {"type": "text", "text": "16,319", "align": "left", "baseline": "middle", "fontSize": 11.5, "color": "#5fd8de"},
          "encoding": {
            "x": {"datum": 32.9, "type": "quantitative", "scale": {"domain": [-3.05, 280.05], "nice": false, "zero": false}},
            "y": {"datum": 17.252, "type": "quantitative", "scale": {"domain": [14.101, 17.707], "nice": false, "zero": false}}
          }
        },
        {
          "data": {"values": [{}]},
          "mark": {"type": "point", "shape": "M-1,-0.5L0,-0.5L0,0.5L-0.467,0.5L-0.467,-0.1L-1,-0.1Z M0.066,-0.3a0.167,0.167 0 1,0 0.334,0a0.167,0.167 0 1,0 -0.334,0Z M0.467,-0.5L1,-0.5L0.6,0.5L0.133,0.5Z", "size": 900, "filled": true, "color": "#131722", "opacity": 1, "strokeWidth": 0},
          "encoding": {
            "x": {"datum": 0.6, "type": "quantitative", "scale": {"domain": [-3.05, 280.05], "nice": false, "zero": false}},
            "y": {"datum": 13.698, "type": "quantitative", "scale": {"domain": [14.101, 17.707], "nice": false, "zero": false}}
          }
        },
        {
          "data": {"values": [{}]},
          "mark": {"type": "text", "text": "TradingView", "align": "left", "baseline": "middle", "fontSize": 19.5, "fontWeight": "bold", "font": "Inter", "color": "#131722"},
          "encoding": {
            "x": {"datum": 6.6, "type": "quantitative", "scale": {"domain": [-3.05, 280.05], "nice": false, "zero": false}},
            "y": {"datum": 13.681, "type": "quantitative", "scale": {"domain": [14.101, 17.707], "nice": false, "zero": false}}
          }
        }
      ]
    }
  ],
  "resolve": {"scale": {"y": "independent"}}
}
